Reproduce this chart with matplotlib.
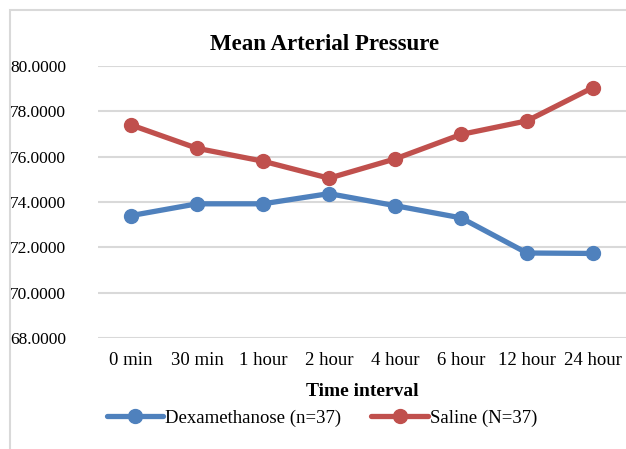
import matplotlib
matplotlib.use("Agg")
import matplotlib.pyplot as plt
from matplotlib.patches import Rectangle

categories = ["0 min", "30 min", "1 hour", "2 hour", "4 hour", "6 hour", "12 hour", "24 hour"]
dexa = [73.40, 73.92, 73.92, 74.37, 73.84, 73.30, 71.75, 71.73]
saline = [77.40, 76.37, 75.80, 75.05, 75.90, 76.98, 77.58, 79.05]
yticks = [68, 70, 72, 74, 76, 78, 80]

plt.rcParams['font.family'] = ['Liberation Serif', 'DejaVu Serif']

fig = plt.figure(figsize=(6.26, 4.49), dpi=100)
border = Rectangle((10/626, -0.1), 1.2, 1 - 10/449 + 0.1, transform=fig.transFigure,
                   fill=False, edgecolor="#D9D9D9", linewidth=1.5, zorder=-10)
fig.patches.append(border)
ax = fig.add_axes([98/626, 1 - 338/449, 528/626, (338 - 66)/449])

x = list(range(len(categories)))
ax.plot(x, dexa, color="#4F81BD", lw=3.8, marker="o", ms=10, label="Dexamethanose (n=37)",
        solid_capstyle="round", clip_on=False, zorder=3)
ax.plot(x, saline, color="#C0504D", lw=3.8, marker="o", ms=10, label="Saline (N=37)",
        solid_capstyle="round", clip_on=False, zorder=3)

ax.set_xlim(-0.5, 7.5)
ax.set_ylim(68, 80)
ax.set_yticks(yticks)
ax.set_yticklabels([f"{v:.4f}" for v in yticks], fontsize=12.5)
ax.set_xticks(x)
ax.set_xticklabels(categories, fontsize=13.5)
ax.tick_params(axis='x', length=0, pad=10)
ax.tick_params(axis='y', length=0, pad=23)
ax.grid(axis='y', color="#D9D9D9", lw=1.5)
ax.set_axisbelow(True)
for s in ax.spines.values():
    s.set_visible(False)

ax.set_xlabel("Time interval", fontsize=14, fontweight="bold", labelpad=10)
fig.text(325/626, 1 - 44/449, "Mean Arterial Pressure", fontsize=16.5, fontweight="bold",
         ha="center", va="center")
fig.legend(loc="center", bbox_to_anchor=(322/626, 1 - 418/449), ncol=2, frameon=False,
           fontsize=13.5, handlelength=3.0, handletextpad=0.1, columnspacing=1.6)

fig.savefig("out.png", dpi=100)
